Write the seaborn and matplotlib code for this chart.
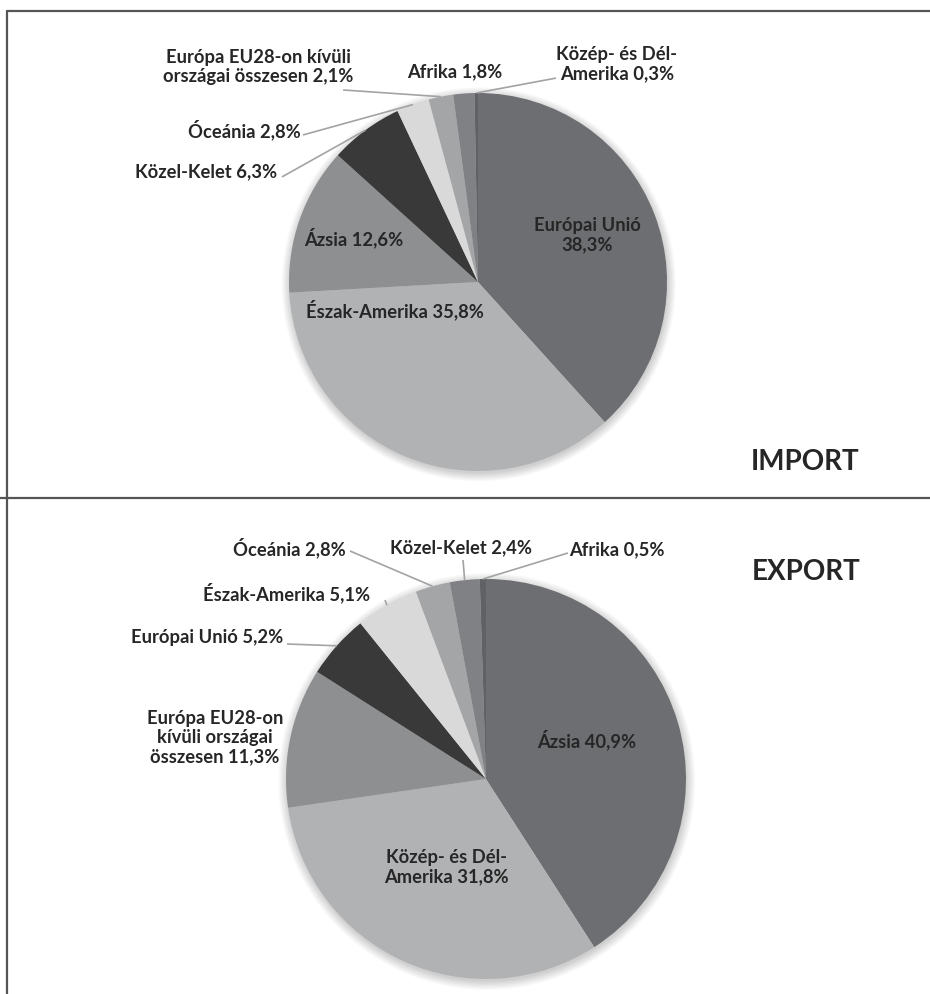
import matplotlib
matplotlib.use("Agg")
import matplotlib.pyplot as plt
import numpy as np
import seaborn as sns
from matplotlib.patches import Circle

sns.set_theme(style="white")
plt.rcParams["font.family"] = ["Lato", "DejaVu Sans"]

# --- data -------------------------------------------------------------
import_regions = ["Európai Unió", "Észak-Amerika", "Ázsia", "Közel-Kelet",
                  "Óceánia", "Európa EU28-on kívüli országai összesen",
                  "Afrika", "Közép- és Dél-Amerika"]
import_share = [38.3, 35.8, 12.6, 6.3, 2.8, 2.1, 1.8, 0.3]
import_labels = ["Európai Unió\n38,3%", "Észak-Amerika 35,8%", "Ázsia 12,6%",
                 "Közel-Kelet 6,3%", "Óceánia 2,8%",
                 "Európa EU28-on kívüli\nországai összesen 2,1%",
                 "Afrika 1,8%", "Közép- és Dél-\nAmerika 0,3%"]

export_regions = ["Ázsia", "Közép- és Dél-Amerika",
                  "Európa EU28-on kívüli országai összesen", "Európai Unió",
                  "Észak-Amerika", "Óceánia", "Közel-Kelet", "Afrika"]
export_share = [40.9, 31.8, 11.3, 5.2, 5.1, 2.8, 2.4, 0.5]
export_labels = ["Ázsia 40,9%", "Közép- és Dél-\nAmerika 31,8%",
                 "Európa EU28-on\nkívüli országai\nösszesen 11,3%",
                 "Európai Unió 5,2%", "Észak-Amerika 5,1%", "Óceánia 2,8%",
                 "Közel-Kelet 2,4%", "Afrika 0,5%"]

# grey ramp applied in slice order
slice_colors = ["#6d6e71", "#b1b2b4", "#8e8f91", "#39393a",
                "#d9d9da", "#a4a5a7", "#808184", "#606164"]

# --- layout (label anchors in units of the pie radius) ------------------
W, H = 930, 994
TEXT = "#262626"
LINE = "#a3a3a3"

import_layout = {
    "center": (478, 282), "radius": 189,
    "label_xy": [(0.577, 0.249), (-0.439, -0.148), (-0.656, 0.233),
                 (-1.439, 0.582), (-1.238, 0.804), (-1.164, 1.138),
                 (-0.122, 1.111), (0.735, 1.153)],
    "leader_from": [None, None, None, (-1.037, 0.556), (-0.926, 0.778),
                    (-0.714, 1.016), None, (0.413, 1.079)],
    "title": "IMPORT", "title_xy": (1.730, -0.952),
}
export_layout = {
    "center": (486, 779), "radius": 200,
    "label_xy": [(0.505, 0.195), (-0.20, -0.44), (-1.355, 0.205),
                 (-1.395, 0.705), (-0.995, 0.93), (-0.985, 1.155),
                 (-0.125, 1.155), (0.655, 1.145)],
    "leader_from": [None, None, None, (-0.995, 0.675), (-0.505, 0.895),
                    (-0.68, 1.14), (-0.115, 1.095), (0.41, 1.13)],
    "title": "EXPORT", "title_xy": (1.60, 1.035),
}

fig = plt.figure(figsize=(W / 100, H / 100), dpi=100)
fig.patch.set_facecolor("white")

# frame lines of the two panels
frame = fig.add_axes([0, 0, 1, 1])
frame.set_xlim(0, W)
frame.set_ylim(H, 0)
frame.axis("off")
frame.plot([7, W], [11, 11], color="#555555", lw=1.6)
frame.plot([7, 7], [11, H], color="#555555", lw=1.6)
frame.plot([0, W], [498, 498], color="#555555", lw=1.6)


def draw_pie(values, labels, layout):
    cx, cy = layout["center"]
    r = layout["radius"]
    span = 2.3
    s = span * r
    ax = fig.add_axes([(cx - s) / W, 1 - (cy + s) / H, 2 * s / W, 2 * s / H])
    ax.axis("off")

    # soft drop shadow behind the pie
    for i in range(8):
        ax.add_patch(Circle((0.004, -0.012), 1.0 + 0.006 * i,
                            facecolor="black", edgecolor="none",
                            alpha=0.025, zorder=0))

    wedges, _ = ax.pie(values, colors=slice_colors, startangle=90,
                       counterclock=False, radius=1.0,
                       wedgeprops=dict(linewidth=0, edgecolor="none"))
    for w in wedges:
        w.set_zorder(2)
    ax.set_xlim(-span, span)
    ax.set_ylim(-span, span)

    for w, lab, pos, src in zip(wedges, labels, layout["label_xy"],
                                layout["leader_from"]):
        ax.text(pos[0], pos[1], lab, ha="center", va="center",
                fontsize=13.2, fontweight="bold", color=TEXT,
                linespacing=1.15, zorder=5)
        if src is not None:
            mid = np.deg2rad((w.theta1 + w.theta2) / 2)
            end = (np.cos(mid), np.sin(mid))
            ax.plot([src[0], end[0]], [src[1], end[1]], color=LINE,
                    lw=1.2, zorder=4, solid_capstyle="butt")

    tx, ty = layout["title_xy"]
    ax.text(tx, ty, layout["title"], ha="center", va="center",
            fontsize=20, fontweight="bold", color=TEXT, zorder=5)
    return ax


draw_pie(import_share, import_labels, import_layout)
draw_pie(export_share, export_labels, export_layout)

fig.savefig("out.png", dpi=100, facecolor="white")
